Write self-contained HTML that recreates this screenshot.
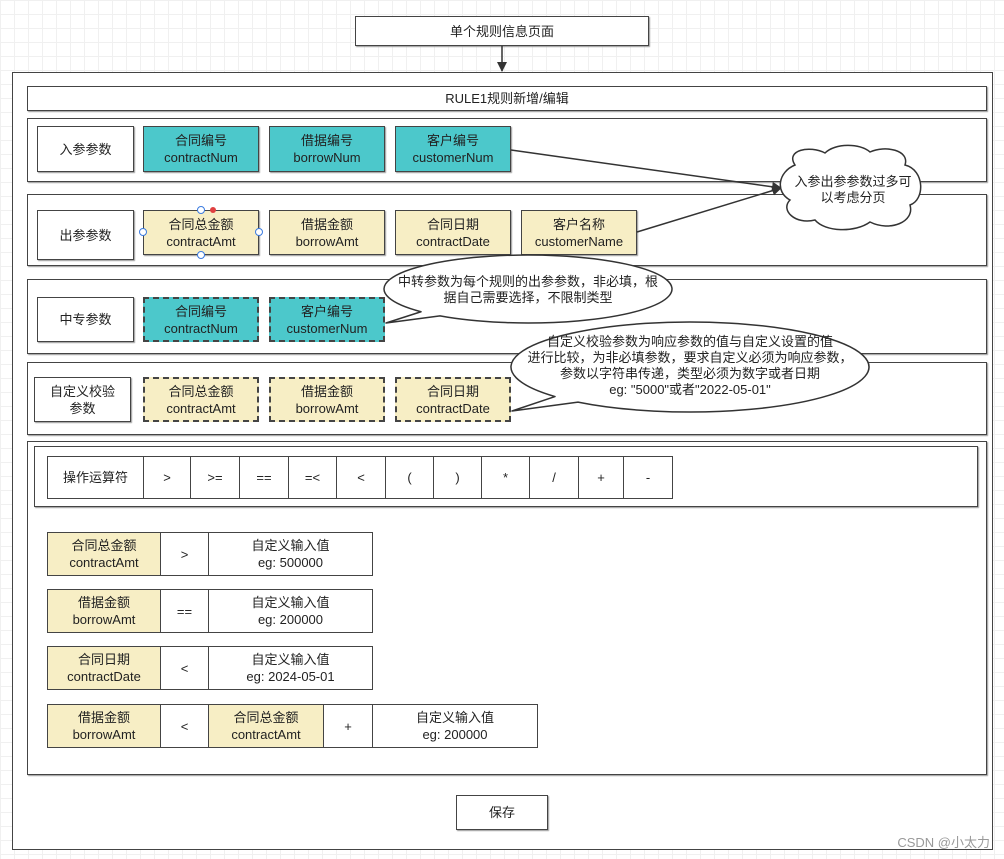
<!DOCTYPE html>
<html><head><meta charset="utf-8">
<style>
*{margin:0;padding:0;box-sizing:border-box}
body{width:1004px;height:859px;position:relative;overflow:hidden;background:#fff;
background-image:linear-gradient(#f0f0f0 1px,transparent 1px),linear-gradient(90deg,#f0f0f0 1px,transparent 1px);background-size:14px 14px;
font-family:"Liberation Sans","Microsoft YaHei","Noto Sans CJK SC",sans-serif;font-size:13px;color:#222}
.b{position:absolute;border:1.5px solid #444;background:#fff;display:flex;align-items:center;justify-content:center;text-align:center;line-height:17px}
.t{background:#4cc8cb}
.y{background:#f7eec5}
.d{border-style:dashed;border-width:2px}
.s{box-shadow:1px 1px 1px #999}
svg{position:absolute;left:0;top:0}
</style></head><body>
<div class="b s" style="left:355px;top:16px;width:294px;height:30px">单个规则信息页面</div>
<div class="b" style="left:12px;top:72px;width:981px;height:778px;border-width:1.5px"></div>
<div class="b s" style="left:27px;top:86px;width:960px;height:25px">RULE1规则新增/编辑</div>

<div class="b s" style="left:27px;top:118px;width:960px;height:64px"></div>
<div class="b s" style="left:37px;top:126px;width:97px;height:46px">入参参数</div>
<div class="b t s" style="left:143px;top:126px;width:116px;height:46px">合同编号<br>contractNum</div>
<div class="b t s" style="left:269px;top:126px;width:116px;height:46px">借据编号<br>borrowNum</div>
<div class="b t s" style="left:395px;top:126px;width:116px;height:46px">客户编号<br>customerNum</div>

<div class="b s" style="left:27px;top:194px;width:960px;height:72px"></div>
<div class="b s" style="left:37px;top:210px;width:97px;height:50px">出参参数</div>
<div class="b y s" style="left:143px;top:210px;width:116px;height:45px">合同总金额<br>contractAmt</div>
<div class="b y s" style="left:269px;top:210px;width:116px;height:45px">借据金额<br>borrowAmt</div>
<div class="b y s" style="left:395px;top:210px;width:116px;height:45px">合同日期<br>contractDate</div>
<div class="b y s" style="left:521px;top:210px;width:116px;height:45px">客户名称<br>customerName</div>

<div class="b s" style="left:27px;top:279px;width:960px;height:75px"></div>
<div class="b s" style="left:37px;top:297px;width:97px;height:45px">中专参数</div>
<div class="b t d" style="left:143px;top:297px;width:116px;height:45px">合同编号<br>contractNum</div>
<div class="b t d" style="left:269px;top:297px;width:116px;height:45px">客户编号<br>customerNum</div>

<div class="b s" style="left:27px;top:362px;width:960px;height:73px"></div>
<div class="b s" style="left:34px;top:377px;width:97px;height:45px">自定义校验<br>参数</div>
<div class="b y d" style="left:143px;top:377px;width:116px;height:45px">合同总金额<br>contractAmt</div>
<div class="b y d" style="left:269px;top:377px;width:116px;height:45px">借据金额<br>borrowAmt</div>
<div class="b y d" style="left:395px;top:377px;width:116px;height:45px">合同日期<br>contractDate</div>

<div class="b s" style="left:27px;top:441px;width:960px;height:334px"></div>
<div class="b s" style="left:34px;top:446px;width:944px;height:61px"></div>
<div class="b" style="left:47px;top:456px;width:97px;height:43px">操作运算符</div>
<div class="b" style="left:143px;top:456px;width:48px;height:43px">&gt;</div>
<div class="b" style="left:190px;top:456px;width:50px;height:43px">&gt;=</div>
<div class="b" style="left:239px;top:456px;width:50px;height:43px">==</div>
<div class="b" style="left:288px;top:456px;width:49px;height:43px">=&lt;</div>
<div class="b" style="left:336px;top:456px;width:50px;height:43px">&lt;</div>
<div class="b" style="left:385px;top:456px;width:49px;height:43px">(</div>
<div class="b" style="left:433px;top:456px;width:49px;height:43px">)</div>
<div class="b" style="left:481px;top:456px;width:49px;height:43px">*</div>
<div class="b" style="left:529px;top:456px;width:50px;height:43px">/</div>
<div class="b" style="left:578px;top:456px;width:46px;height:43px">+</div>
<div class="b" style="left:623px;top:456px;width:50px;height:43px">-</div>

<div class="b y" style="left:47px;top:532px;width:114px;height:44px">合同总金额<br>contractAmt</div>
<div class="b" style="left:160px;top:532px;width:49px;height:44px">&gt;</div>
<div class="b" style="left:208px;top:532px;width:165px;height:44px">自定义输入值<br>eg: 500000</div>

<div class="b y" style="left:47px;top:589px;width:114px;height:44px">借据金额<br>borrowAmt</div>
<div class="b" style="left:160px;top:589px;width:49px;height:44px">==</div>
<div class="b" style="left:208px;top:589px;width:165px;height:44px">自定义输入值<br>eg: 200000</div>

<div class="b y" style="left:47px;top:646px;width:114px;height:44px">合同日期<br>contractDate</div>
<div class="b" style="left:160px;top:646px;width:49px;height:44px">&lt;</div>
<div class="b" style="left:208px;top:646px;width:165px;height:44px">自定义输入值<br>eg: 2024-05-01</div>

<div class="b y" style="left:47px;top:704px;width:114px;height:44px">借据金额<br>borrowAmt</div>
<div class="b" style="left:160px;top:704px;width:49px;height:44px">&lt;</div>
<div class="b y" style="left:208px;top:704px;width:116px;height:44px">合同总金额<br>contractAmt</div>
<div class="b" style="left:323px;top:704px;width:50px;height:44px">+</div>
<div class="b" style="left:372px;top:704px;width:166px;height:44px">自定义输入值<br>eg: 200000</div>

<div class="b s" style="left:456px;top:795px;width:92px;height:35px">保存</div>

<svg width="1004" height="859" viewBox="0 0 1004 859">
<defs><marker id="a" markerWidth="10" markerHeight="10" refX="9" refY="5" orient="auto" markerUnits="userSpaceOnUse"><path d="M0,0 L10,5 L0,10 z" fill="#333"/></marker></defs>
<line x1="502" y1="46" x2="502" y2="71" stroke="#333" stroke-width="1.5" marker-end="url(#a)"/>
<line x1="511" y1="150" x2="781" y2="188" stroke="#333" stroke-width="1.5" marker-end="url(#a)"/>
<line x1="637" y1="232" x2="781" y2="188" stroke="#333" stroke-width="1.5" marker-end="url(#a)"/>
<path d="M795,165 C785,150 810,145 825,153 C835,143 860,143 870,152 C885,145 910,150 905,165 C925,170 925,200 910,205 C915,222 890,232 870,222 C855,233 825,232 815,220 C795,225 780,210 790,200 C775,192 778,172 795,165 Z" fill="#fff" stroke="#333" stroke-width="1.5"/>
<text x="853" y="186" text-anchor="middle" font-size="13" fill="#222">入参出参参数过多可</text>
<text x="853" y="202" text-anchor="middle" font-size="13" fill="#222">以考虑分页</text>

<path d="M421,311.753 A144,34 0 1 1 440,315.912 L386,323 Z" fill="#fff" stroke="#333" stroke-width="1.5" stroke-linejoin="round"/>
<text x="528" y="286" text-anchor="middle" font-size="13" fill="#222">中转参数为每个规则的出参参数，非必填，根</text>
<text x="528" y="302" text-anchor="middle" font-size="13" fill="#222">据自己需要选择，不限制类型</text>

<path d="M555,396.55 A179,45 0 1 1 578,402.10 L512,411 Z" fill="#fff" stroke="#333" stroke-width="1.5" stroke-linejoin="round"/>
<text x="690" y="346" text-anchor="middle" font-size="13" fill="#222">自定义校验参数为响应参数的值与自定义设置的值</text>
<text x="690" y="362" text-anchor="middle" font-size="13" fill="#222">进行比较，为非必填参数，要求自定义必须为响应参数，</text>
<text x="690" y="378" text-anchor="middle" font-size="13" fill="#222">参数以字符串传递，类型必须为数字或者日期</text>
<text x="690" y="394" text-anchor="middle" font-size="13" fill="#222">eg: "5000"或者"2022-05-01"</text>
<circle cx="201" cy="210" r="3.5" fill="#fff" stroke="#3b7be0"/>
<circle cx="213" cy="210" r="3" fill="#e04040"/>
<circle cx="143" cy="232" r="3.5" fill="#fff" stroke="#3b7be0"/>
<circle cx="259" cy="232" r="3.5" fill="#fff" stroke="#3b7be0"/>
<circle cx="201" cy="255" r="3.5" fill="#fff" stroke="#3b7be0"/>
<text x="990" y="847" text-anchor="end" font-size="13" fill="#999">CSDN @小太力</text>
</svg>
</body></html>
